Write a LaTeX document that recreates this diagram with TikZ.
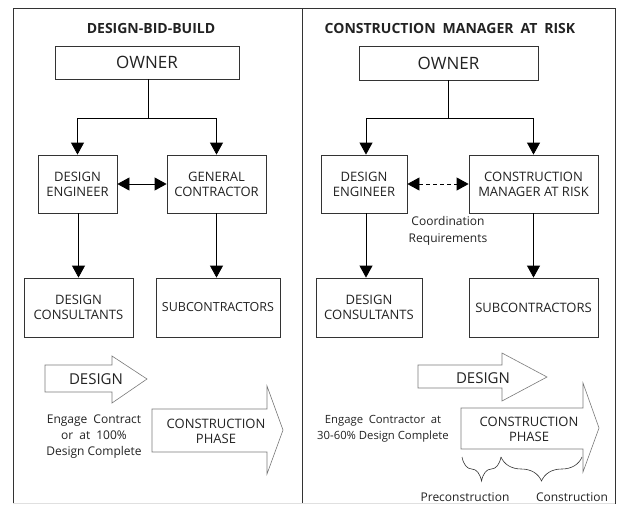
\documentclass[tikz,border=0pt]{standalone}
\usepackage{fontspec}
\setmainfont{Open Sans}
\usetikzlibrary{arrows.meta,decorations.pathreplacing}
\definecolor{ink}{HTML}{222222}
\definecolor{edge}{HTML}{333333}
\definecolor{outl}{HTML}{7A7A7A}
\newcommand{\widesp}{\hspace{0.5em}}
\begin{document}
\begin{tikzpicture}[x=1pt,y=-1pt,
  font=\fontsize{13}{15}\selectfont, text=ink,
  box/.style={draw=edge, line width=0.8pt, inner sep=0pt, align=center},
  title/.style={font=\fontsize{14}{16}\selectfont\bfseries},
  conn/.style={draw=black, line width=0.8pt},
  arr/.style={conn, -{Triangle[width=13pt,length=12pt]}},
  darr/.style={conn, {Triangle[width=13pt,length=12pt]}-{Triangle[width=13pt,length=12pt]}},
  bigarrow/.style={draw=outl, line width=0.6pt, fill=white},
  note/.style={align=center, font=\fontsize{12}{16}\selectfont},
  brace/.style={decorate, draw=black!80, line width=0.6pt,
    decoration={brace, mirror, amplitude=24pt, aspect=0.5}}
]
\useasboundingbox (0,0) rectangle (618,504);

% panel frames
\draw[draw=edge, line width=1pt] (13,504) -- (13,8) -- (615,8) -- (615,504);
\draw[draw=edge, line width=1pt] (302,8) -- (302,504);
\draw[draw=black!12, line width=0.8pt] (13,503) -- (615,503);

% ---------------- Design-Bid-Build ----------------
\node[title] (tL) at (151,28) {DESIGN-BID-BUILD};
\node[box, minimum width=184pt, minimum height=33pt, font=\fontsize{17}{19}\selectfont] (ownL) at (147,62.5) {OWNER};
\node[box, minimum width=79pt, minimum height=58pt] (deL) at (77.5,184) {DESIGN\\ENGINEER};
\node[box, minimum width=99pt, minimum height=58pt] (gcL) at (216.5,184) {GENERAL\\CONTRACTOR};
\node[box, minimum width=109pt, minimum height=59pt] (dcL) at (78.5,307.5) {DESIGN\\CONSULTANTS};
\node[box, minimum width=124pt, minimum height=59pt, font=\fontsize{12.5}{15}\selectfont] (subL) at (218,307.5) {SUBCONTRACTORS};

\coordinate (jL) at (148,118);
\draw[conn] (ownL.south -| jL) -- (jL);
\draw[arr] (jL) -| (deL.north);
\draw[arr] (jL) -| (gcL.north);
\draw[darr] (deL.east) -- (gcL.west);
\draw[arr] (deL.south -| dcL.north) -- (dcL.north);
\draw[arr] (gcL.south) -- (gcL.south |- subL.north);

% phase arrows
\draw[bigarrow] (45,365) -- (112,365) -- (112,356) -- (147,379) -- (112,403) -- (112,392) -- (45,392) -- cycle;
\node[font=\fontsize{15}{17}\selectfont] (dsL) at (96,379) {DESIGN};
\draw[bigarrow] (152,409) -- (267,409) -- (267,386) -- (283,430) -- (267,474) -- (267,452) -- (152,452) -- cycle;
\node[align=center] (cpL) at (216,431) {CONSTRUCTION\\PHASE};
\node[note] (enL) at (94,437) {Engage\widesp Contract\\or\widesp at\widesp 100\%\\Design Complete};

% ---------------- CM at Risk ----------------
\node[title] (tR) at (450,28) {CONSTRUCTION\widesp MANAGER\widesp AT\widesp RISK};
\node[box, minimum width=179pt, minimum height=34pt, font=\fontsize{17}{19}\selectfont] (ownR) at (448.5,63) {OWNER};
\node[box, minimum width=86pt, minimum height=58pt] (deR) at (364,184) {DESIGN\\ENGINEER};
\node[box, minimum width=129pt, minimum height=58pt] (cmR) at (533.5,184) {CONSTRUCTION\\MANAGER AT RISK};
\node[box, minimum width=106pt, minimum height=59pt] (dcR) at (369,307.5) {DESIGN\\CONSULTANTS};
\node[box, minimum width=129pt, minimum height=59pt] (subR) at (533.5,307.5) {SUBCONTRACTORS};

\coordinate (jR) at (448,118);
\draw[conn] (ownR.south -| jR) -- (jR);
\draw[arr] (jR) -| ([xshift=2pt]deR.north);
\draw[arr] (jR) -| (cmR.north);
\draw[darr, dash pattern=on 4pt off 3pt] (deR.east) -- (cmR.west);
\node[note, font=\fontsize{12}{17}\selectfont] (coR) at (448,231) {Coordination\\Requirements};
\draw[arr] ([xshift=2pt]deR.south) -- ([xshift=2pt]deR.south |- dcR.north);
\draw[arr] (cmR.south) -- (cmR.south |- subR.north);

% phase arrows
\draw[bigarrow] (418,365) -- (502,365) -- (502,353) -- (547,377) -- (502,401) -- (502,388) -- (418,388) -- cycle;
\node[font=\fontsize{15}{17}\selectfont] (dsR) at (483,378) {DESIGN};
\draw[bigarrow] (461,408) -- (583,408) -- (583,383) -- (599,428) -- (583,472) -- (583,449) -- (461,449) -- cycle;
\node[align=center] (cpR) at (529,429) {CONSTRUCTION\\PHASE};
\node[note, font=\fontsize{11.3}{16}\selectfont] (enR) at (383,429) {Engage\widesp Contractor\widesp at\\30-60\% Design Complete};

% phase split below the construction arrow
\coordinate (b0) at (462,457);
\coordinate (b1) at (501,457);
\coordinate (b2) at (582,457);
\draw[brace] (b0) -- (b1);
\draw[brace] (b1) -- (b2);
\node[font=\fontsize{12}{14}\selectfont] (pre) at (465,497) {Preconstruction};
\node[font=\fontsize{12}{14}\selectfont] (con) at (572,497) {Construction};
\end{tikzpicture}
\end{document}
